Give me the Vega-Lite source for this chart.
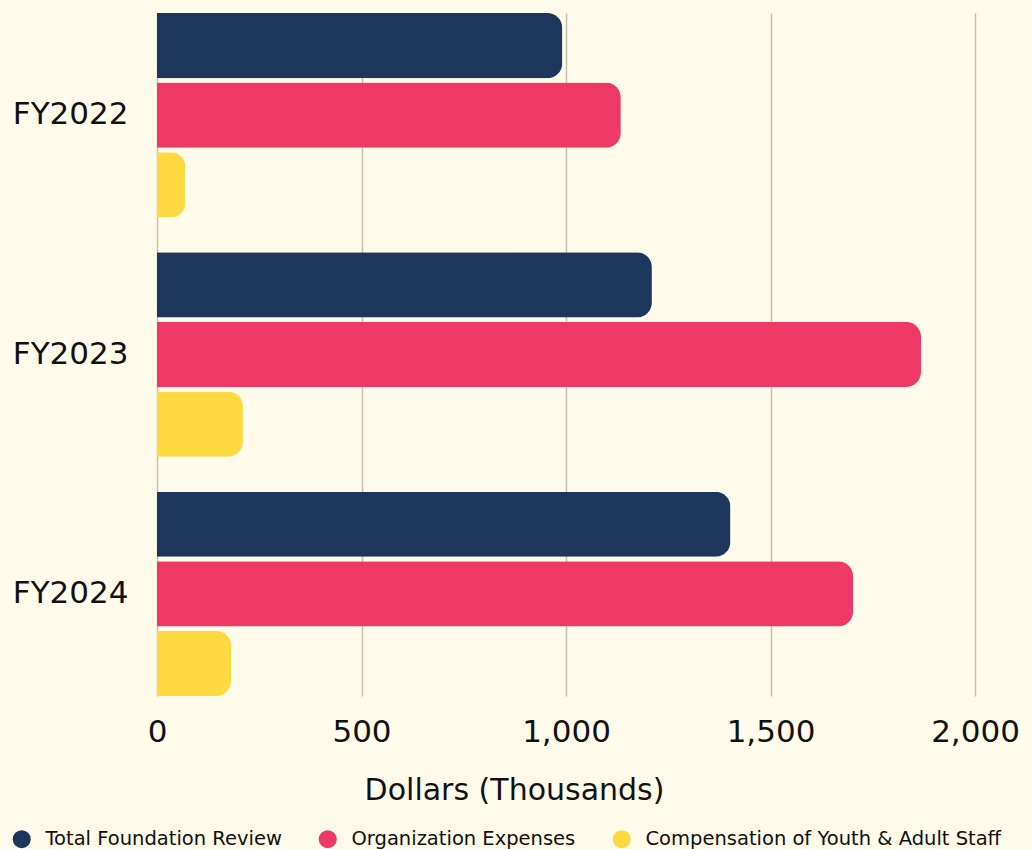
{
  "$schema": "https://vega.github.io/schema/vega-lite/v6.json",
  "autosize": "none",
  "width": 818,
  "height": 683,
  "padding": {"left": 157, "top": 13, "right": 57, "bottom": 153},
  "background": "#FEFBEA",
  "config": {
    "view": {"stroke": null},
    "font": "DejaVu Sans"
  },
  "data": {
    "values": [
      {"year": "FY2022", "series": "Total Foundation Review", "value": 991},
      {"year": "FY2022", "series": "Organization Expenses", "value": 1134},
      {"year": "FY2022", "series": "Compensation of Youth & Adult Staff", "value": 69},
      {"year": "FY2023", "series": "Total Foundation Review", "value": 1210},
      {"year": "FY2023", "series": "Organization Expenses", "value": 1868},
      {"year": "FY2023", "series": "Compensation of Youth & Adult Staff", "value": 210},
      {"year": "FY2024", "series": "Total Foundation Review", "value": 1402},
      {"year": "FY2024", "series": "Organization Expenses", "value": 1702},
      {"year": "FY2024", "series": "Compensation of Youth & Adult Staff", "value": 181}
    ]
  },
  "mark": {"type": "bar", "cornerRadiusEnd": 15},
  "encoding": {
    "y": {
      "field": "year",
      "type": "nominal",
      "scale": {"paddingInner": 0.146, "paddingOuter": 0},
      "axis": {
        "title": null,
        "domain": false,
        "ticks": false,
        "tickSize": 0,
        "labelPadding": 29,
        "labelFontSize": 31,
        "labelColor": "#111111",
        "grid": false
      }
    },
    "yOffset": {
      "field": "series",
      "type": "nominal",
      "sort": ["Total Foundation Review", "Organization Expenses", "Compensation of Youth & Adult Staff"],
      "scale": {"paddingInner": 0.063, "paddingOuter": 0}
    },
    "x": {
      "field": "value",
      "type": "quantitative",
      "scale": {"domain": [0, 2000], "nice": false},
      "axis": {
        "title": "Dollars (Thousands)",
        "values": [0, 500, 1000, 1500, 2000],
        "format": ",.0f",
        "domain": false,
        "ticks": false,
        "tickSize": 0,
        "grid": true,
        "gridColor": "#C5C1B1",
        "gridWidth": 1.5,
        "labelFontSize": 31,
        "labelColor": "#111111",
        "labelBaseline": "alphabetic",
        "labelPadding": 45,
        "labelFlush": false,
        "titleFontSize": 30,
        "titleFontWeight": "normal",
        "titleColor": "#111111",
        "titleX": 357,
        "titleY": 103,
        "titleAlign": "center",
        "titleBaseline": "alphabetic"
      }
    },
    "color": {
      "field": "series",
      "type": "nominal",
      "sort": ["Total Foundation Review", "Organization Expenses", "Compensation of Youth & Adult Staff"],
      "scale": {
        "domain": ["Total Foundation Review", "Organization Expenses", "Compensation of Youth & Adult Staff"],
        "range": ["#1C365C", "#EE3966", "#FED93F"]
      },
      "legend": {
        "title": null,
        "orient": "none",
        "direction": "horizontal",
        "legendX": -145,
        "legendY": 816,
        "symbolType": "circle",
        "symbolSize": 324,
        "symbolStrokeWidth": 0,
        "symbolOpacity": 1,
        "labelFontSize": 19.5,
        "labelColor": "#111111",
        "labelOffset": 14,
        "columnPadding": 36,
        "labelLimit": 500
      }
    }
  }
}
